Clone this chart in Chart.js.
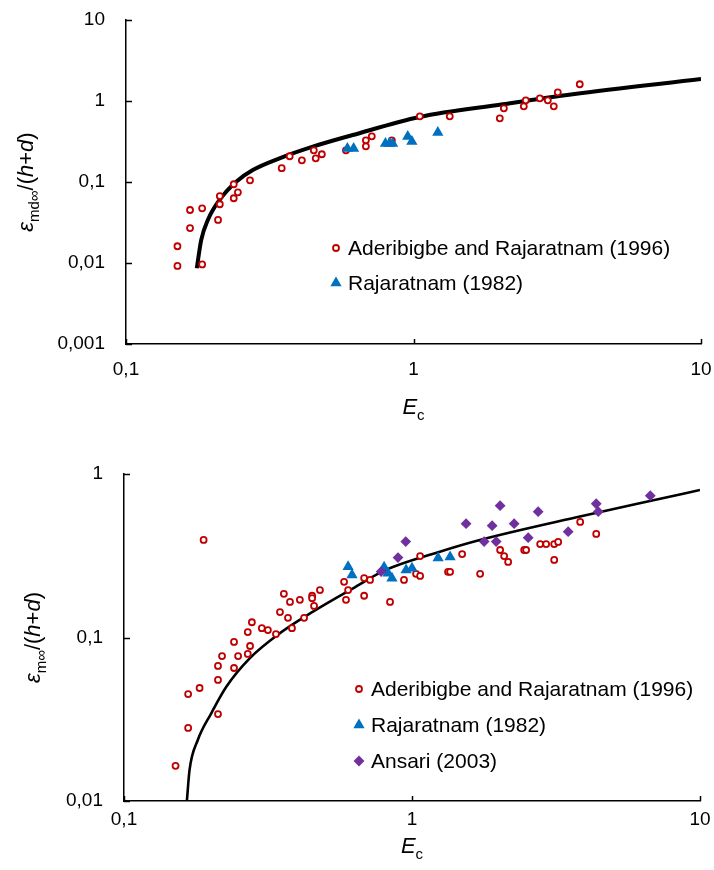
<!DOCTYPE html>
<html>
<head>
<meta charset="utf-8">
<script src="https://cdn.jsdelivr.net/npm/chart.js@4.4.0/dist/chart.umd.min.js"></script>
<style>
  body { margin: 0; background: #fff; }
  canvas { position: absolute; left: 0; }
  #topChart { top: 0; }
  #bottomChart { top: 430px; }
</style>
</head>
<body>
<canvas id="topChart" width="714" height="430"></canvas>
<canvas id="bottomChart" width="714" height="440"></canvas>
<script>
// === DATA ===
const xTicks = [0.1, 1, 10];
const xTickLabels = ['0,1', '1', '10'];
const topYTicks = [0.001, 0.01, 0.1, 1, 10];
const topYTickLabels = ['0,001', '0,01', '0,1', '1', '10'];
const bottomYTicks = [0.01, 0.1, 1];
const bottomYTickLabels = ['0,01', '0,1', '1'];

const seriesNames = ['Aderibigbe and Rajaratnam (1996)', 'Rajaratnam (1982)', 'Ansari (2003)'];

// top chart (eps_md / (h+d))
const topAderX = [0.151, 0.151, 0.167, 0.167, 0.184, 0.184, 0.209, 0.212, 0.212, 0.237, 0.237, 0.245, 0.270,
  0.348, 0.371, 0.409, 0.450, 0.457, 0.480, 0.582, 0.683, 0.683, 0.716, 0.841, 1.052, 1.337, 1.996, 2.062,
  2.419, 2.458, 2.750, 2.932, 3.076, 3.176, 3.787];
const topAderY = [0.0161, 0.0092, 0.0451, 0.0270, 0.0473, 0.0096, 0.0340, 0.0671, 0.0531, 0.0938, 0.0630, 0.0746, 0.105,
  0.148, 0.208, 0.185, 0.246, 0.196, 0.220, 0.246, 0.327, 0.276, 0.366, 0.327, 0.647, 0.647, 0.611, 0.813,
  0.860, 1.02, 1.08, 1.02, 0.860, 1.28, 1.61];
const topRajX = [0.589, 0.619, 0.799, 0.825, 0.846, 0.955, 0.987, 1.215];
const topRajY = [0.260, 0.260, 0.299, 0.299, 0.299, 0.365, 0.316, 0.409];
const topCurveX = [0.1763, 0.1826, 0.1926, 0.2114, 0.2417, 0.2761, 0.342, 0.4466, 0.615, 1.049, 2.045, 3.58, 10];
const topCurveY = [0.0086, 0.0192, 0.034, 0.060, 0.101, 0.1406, 0.196, 0.273, 0.380, 0.635, 0.911, 1.21, 1.87];

// bottom chart (eps_m / (h+d))
const botAderX = [0.189, 0.151, 0.167, 0.167, 0.183, 0.212, 0.212, 0.212, 0.219, 0.241, 0.241, 0.249, 0.269, 0.274,
  0.269, 0.278, 0.301, 0.316, 0.337, 0.348, 0.371, 0.383, 0.359, 0.377, 0.408, 0.422, 0.450, 0.450, 0.457, 0.479,
  0.581, 0.590, 0.600, 0.682, 0.682, 0.715, 0.839, 0.938, 1.033, 1.067, 1.067, 1.334, 1.356, 1.493, 1.724, 2.023,
  2.089, 2.157, 2.452, 2.490, 2.786, 2.923, 3.117, 3.218, 3.117, 3.837, 4.362];
const botAderY = [0.395, 0.0164, 0.0280, 0.0451, 0.0491, 0.0340, 0.0550, 0.0670, 0.0770, 0.0939, 0.0651, 0.0770, 0.0793, 0.0887,
  0.108, 0.124, 0.114, 0.111, 0.105, 0.143, 0.132, 0.114, 0.185, 0.165, 0.170, 0.132, 0.180, 0.174, 0.156, 0.195,
  0.219, 0.170, 0.195, 0.231, 0.180, 0.225, 0.165, 0.225, 0.245, 0.238, 0.315, 0.252, 0.252, 0.324, 0.245, 0.343,
  0.315, 0.290, 0.343, 0.343, 0.373, 0.373, 0.373, 0.384, 0.298, 0.509, 0.430];
const botRajX = [0.600, 0.619, 0.800, 0.826, 0.852, 0.954, 1.000, 1.232, 1.356];
const botRajY = [0.271, 0.241, 0.269, 0.247, 0.230, 0.259, 0.265, 0.306, 0.311];
const botAnsX = [0.781, 0.894, 0.951, 1.541, 1.780, 1.898, 1.960, 2.023, 2.263, 2.532, 2.742, 3.486, 4.362, 4.434, 6.720];
const botAnsY = [0.253, 0.308, 0.386, 0.497, 0.386, 0.483, 0.386, 0.640, 0.497, 0.408, 0.588, 0.444, 0.658, 0.588, 0.737];
const botCurveX = [0.1653, 0.1689, 0.1804, 0.2009, 0.2266, 0.2731, 0.347, 0.453, 0.624, 0.811, 1.249, 1.72, 3.83, 6.70, 10];
const botCurveY = [0.010, 0.0155, 0.0236, 0.0344, 0.050, 0.0746, 0.106, 0.144, 0.200, 0.259, 0.335, 0.395, 0.55, 0.684, 0.798];

const FONT = '"Liberation Sans", Arial, sans-serif';
const RED = '#C00000', BLUE = '#0070C0', PURPLE = '#7030A0';

const zip = (xs, ys) => xs.map((x, i) => ({ x: x, y: ys[i] }));

// === PLUGINS ===
function drawRich(ctx, parts, size, x, y, rotate) {
  ctx.save();
  ctx.translate(x, y);
  if (rotate) ctx.rotate(-Math.PI / 2);
  const fontOf = p => (p.it ? 'italic ' : '') + (p.sub ? Math.round(size * 0.66) : size) + 'px ' + FONT;
  let w = 0;
  const widths = parts.map(p => { ctx.font = fontOf(p); const m = ctx.measureText(p.t).width; w += m; return m; });
  let cx = -w / 2;
  ctx.fillStyle = '#000';
  ctx.textBaseline = 'alphabetic';
  parts.forEach((p, i) => {
    ctx.font = fontOf(p);
    ctx.fillText(p.t, cx, p.sub ? size * 0.26 : 0);
    cx += widths[i];
  });
  ctx.restore();
}

const axisDecor = {
  id: 'axisDecor',
  afterDraw(chart, args, opts) {
    const ctx = chart.ctx, a = chart.chartArea;
    const xs = chart.scales.x, ys = chart.scales.y;
    ctx.save();
    ctx.strokeStyle = '#000';
    ctx.lineWidth = 1.5;
    // short inward tick marks
    xs.ticks.forEach((t, i) => {
      const px = Math.round(xs.getPixelForTick(i)) + 0.5;
      ctx.beginPath(); ctx.moveTo(px, a.bottom); ctx.lineTo(px, a.bottom - 5); ctx.stroke();
    });
    ys.ticks.forEach((t, i) => {
      const py = Math.round(ys.getPixelForTick(i)) + 0.5;
      ctx.beginPath(); ctx.moveTo(a.left, py); ctx.lineTo(a.left + 6, py); ctx.stroke();
    });
    ctx.restore();
    // axis titles
    drawRich(ctx, opts.xTitle, 22, (a.left + a.right) / 2, a.bottom + opts.xTitleGap, false);
    drawRich(ctx, opts.yTitle, 22, opts.yTitleX, (a.top + a.bottom) / 2, true);
  }
};

const insideLegend = {
  id: 'insideLegend',
  afterDraw(chart, args, opts) {
    const ctx = chart.ctx;
    ctx.save();
    opts.items.forEach((idx, k) => {
      const ds = chart.data.datasets[idx];
      const y = opts.y + k * opts.gap;
      ctx.strokeStyle = ds.pointBorderColor;
      ctx.fillStyle = ds.pointBackgroundColor;
      ctx.lineWidth = ds.pointBorderWidth;
      Chart.helpers.drawPoint(ctx, {
        pointStyle: ds.pointStyle, radius: ds.pointRadius, borderWidth: ds.pointBorderWidth, rotation: 0
      }, opts.x, y);
      ctx.fillStyle = '#000';
      ctx.font = '21px ' + FONT;
      ctx.textBaseline = 'middle';
      ctx.fillText(ds.label, opts.x + 12, y + 1);
    });
    ctx.restore();
  }
};

// === CHART BUILDERS ===
function pointSet(label, xs, ys, color, style, radius, bw, bg, order) {
  return {
    label: label,
    data: zip(xs, ys),
    pointStyle: style,
    pointRadius: radius,
    pointHoverRadius: radius,
    pointBorderWidth: bw,
    pointBorderColor: color,
    pointBackgroundColor: bg,
    showLine: false,
    order: order
  };
}

function curveSet(xs, ys, width) {
  return {
    label: 'curve',
    data: zip(xs, ys),
    showLine: true,
    borderColor: '#000',
    borderWidth: width,
    pointRadius: 0,
    cubicInterpolationMode: 'monotone',
    fill: false,
    order: 5
  };
}

function logAxis(min, max, tickVals, tickLabels, pad, size) {
  return {
    type: 'logarithmic',
    min: min,
    max: max,
    afterBuildTicks: s => { s.ticks = tickVals.map(v => ({ value: v })); },
    afterFit: s => {
      // fixed axis box, no extra room for edge labels
      if (s.isHorizontal()) s.height = size; else s.width = size;
      s.paddingTop = s.paddingBottom = s.paddingLeft = s.paddingRight = 0;
    },
    ticks: {
      autoSkip: false,
      maxRotation: 0,
      padding: pad,
      color: '#000',
      font: { family: FONT, size: 19 },
      callback: (v, i) => tickLabels[i]
    },
    grid: { display: true, drawOnChartArea: false, drawTicks: false },
    border: { display: true, color: '#000', width: 1.5 }
  };
}

Chart.defaults.animation = false;

// top chart
new Chart(document.getElementById('topChart'), {
  type: 'scatter',
  data: {
    datasets: [
      curveSet(topCurveX, topCurveY, 4),
      pointSet(seriesNames[0], topAderX, topAderY, RED, 'circle', 3, 1.8, '#fff', 3),
      pointSet(seriesNames[1], topRajX, topRajY, BLUE, 'triangle', 4.5, 2, BLUE, 2)
    ]
  },
  options: {
    responsive: false,
    layout: { padding: { top: 20, right: 13, left: 0, bottom: 0 } },
    scales: {
      x: logAxis(0.1, 10, xTicks, xTickLabels, 14, 430 - 344),
      y: logAxis(0.001, 10, topYTicks, topYTickLabels, 21, 126)
    },
    plugins: {
      legend: { display: false },
      tooltip: { enabled: false },
      axisDecor: {
        xTitle: [{ t: 'E', it: true }, { t: 'c', sub: true }],
        xTitleGap: 70,
        yTitle: [{ t: 'ε', it: true }, { t: 'md∞', sub: true }, { t: '/(' }, { t: 'h', it: true }, { t: '+' }, { t: 'd', it: true }, { t: ')' }],
        yTitleX: 33
      },
      insideLegend: { items: [1, 2], x: 336, y: 248, gap: 35 }
    }
  },
  plugins: [axisDecor, insideLegend]
});

// bottom chart
new Chart(document.getElementById('bottomChart'), {
  type: 'scatter',
  data: {
    datasets: [
      curveSet(botCurveX, botCurveY, 2.6),
      pointSet(seriesNames[0], botAderX, botAderY, RED, 'circle', 3, 1.8, '#fff', 3),
      pointSet(seriesNames[1], botRajX, botRajY, BLUE, 'triangle', 4.5, 2, BLUE, 2),
      pointSet(seriesNames[2], botAnsX, botAnsY, PURPLE, 'rectRot', 4, 2, PURPLE, 1)
    ]
  },
  options: {
    responsive: false,
    layout: { padding: { top: 44, right: 14, left: 0, bottom: 0 } },
    scales: {
      x: logAxis(0.1, 10, xTicks, xTickLabels, 7, 440 - 371),
      y: logAxis(0.01, 1, bottomYTicks, bottomYTickLabels, 21, 124)
    },
    plugins: {
      legend: { display: false },
      tooltip: { enabled: false },
      axisDecor: {
        xTitle: [{ t: 'E', it: true }, { t: 'c', sub: true }],
        xTitleGap: 52,
        yTitle: [{ t: 'ε', it: true }, { t: 'm∞', sub: true }, { t: '/(' }, { t: 'h', it: true }, { t: '+' }, { t: 'd', it: true }, { t: ')' }],
        yTitleX: 40
      },
      insideLegend: { items: [1, 2, 3], x: 359, y: 259, gap: 36 }
    }
  },
  plugins: [axisDecor, insideLegend]
});
</script>
</body>
</html>
